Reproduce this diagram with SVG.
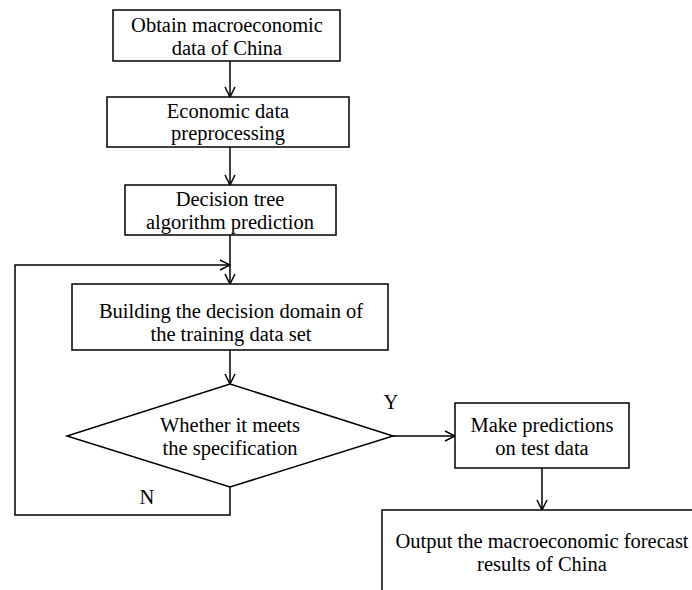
<svg xmlns="http://www.w3.org/2000/svg" width="692" height="590" viewBox="0 0 692 590">
<style>
.box{fill:#fff;stroke:#000;stroke-width:1.5}
.t{font-family:"Liberation Serif","Times New Roman",serif;font-size:20.5px;fill:#000;text-anchor:middle}
.c{fill:none;stroke:#000;stroke-width:1.5}
</style>
<defs>
<marker id="ah" viewBox="0 0 12 12" refX="11" refY="6" markerWidth="12" markerHeight="12" markerUnits="userSpaceOnUse" orient="auto">
<path d="M1,1 L11,6 L1,11" fill="none" stroke="#000" stroke-width="1.5"/>
</marker>
</defs>
<rect width="692" height="590" fill="#fff"/>
<g id="connectors">
<line class="c" x1="230" y1="61" x2="230" y2="97" marker-end="url(#ah)"/>
<line class="c" x1="230" y1="147" x2="230" y2="185" marker-end="url(#ah)"/>
<line class="c" x1="230" y1="235" x2="230" y2="284" marker-end="url(#ah)"/>
<line class="c" x1="230" y1="350" x2="230" y2="384" marker-end="url(#ah)"/>
<polyline class="c" points="230,487 230,515 15,515 15,265 230,265" marker-end="url(#ah)"/>
<line class="c" x1="393" y1="436" x2="455" y2="436" marker-end="url(#ah)"/>
<line class="c" x1="542" y1="468" x2="542" y2="510" marker-end="url(#ah)"/>
<text class="t" x="391" y="409">Y</text>
<text class="t" x="147" y="504">N</text>
</g>
<g id="n1">
<rect class="box" x="113" y="10" width="227" height="51"/>
<text class="t" x="227" y="32">Obtain macroeconomic</text>
<text class="t" x="227" y="55">data of China</text>
</g>
<g id="n2">
<rect class="box" x="107" y="97" width="242" height="50"/>
<text class="t" x="228" y="118">Economic data</text>
<text class="t" x="228" y="140">preprocessing</text>
</g>
<g id="n3">
<rect class="box" x="125" y="185" width="211" height="50"/>
<text class="t" x="230" y="206">Decision tree</text>
<text class="t" x="230" y="229">algorithm prediction</text>
</g>
<g id="n4">
<rect class="box" x="72" y="284" width="316" height="66"/>
<text class="t" x="231" y="318">Building the decision domain of</text>
<text class="t" x="231" y="341">the training data set</text>
</g>
<g id="n5">
<polygon class="box" points="230,384 393,436 230,487 67,436"/>
<text class="t" x="230" y="432">Whether it meets</text>
<text class="t" x="230" y="455">the specification</text>
</g>
<g id="n6">
<rect class="box" x="455" y="403" width="174" height="65"/>
<text class="t" x="542" y="432">Make predictions</text>
<text class="t" x="542" y="455">on test data</text>
</g>
<g id="n7">
<rect class="box" x="382" y="510" width="340" height="100"/>
<text class="t" x="542" y="548">Output the macroeconomic forecast</text>
<text class="t" x="542" y="571">results of China</text>
</g>
</svg>
